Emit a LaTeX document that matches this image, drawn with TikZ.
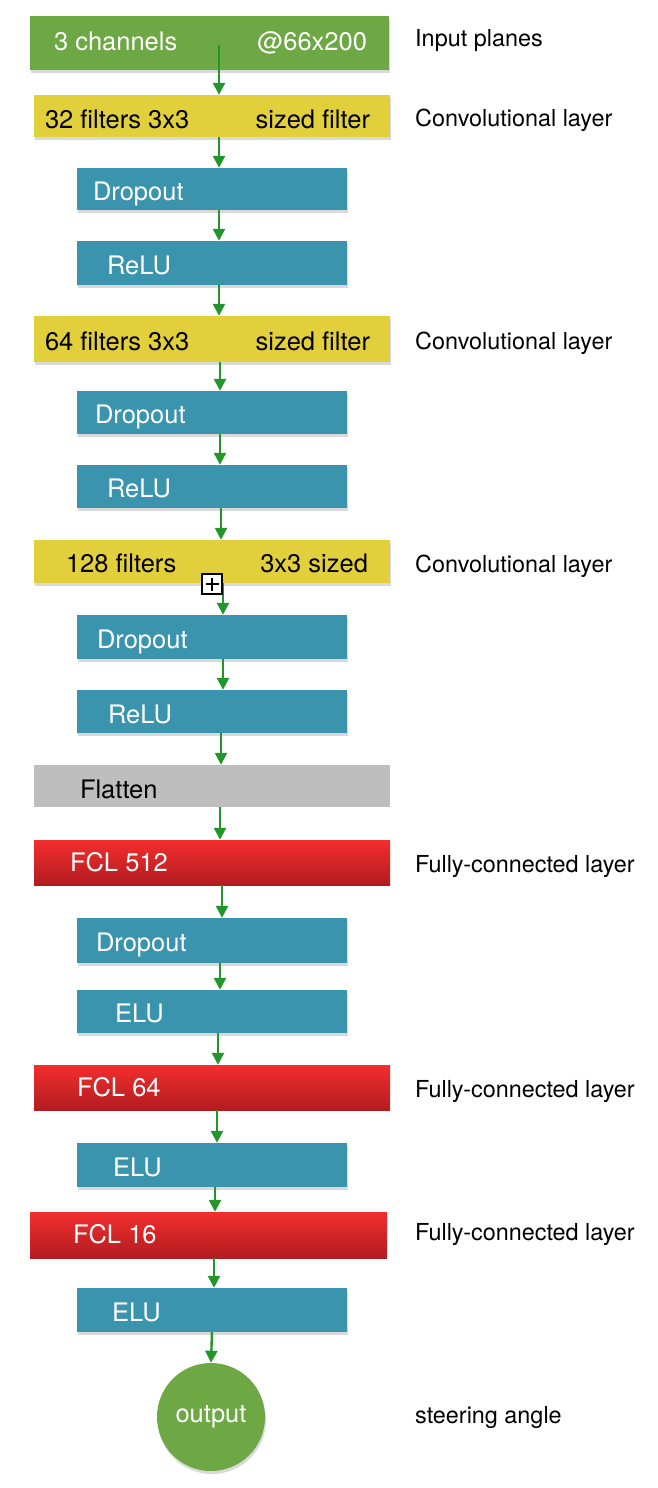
\documentclass[tikz,border=0pt]{standalone}
\usepackage{fontspec}
\setmainfont{TeX Gyre Heros}
\usepackage{tikz}
\usetikzlibrary{positioning,arrows.meta,shadows}

\definecolor{inputgreen}{RGB}{110,168,68}
\definecolor{convyellow}{RGB}{226,207,60}
\definecolor{actblue}{RGB}{58,148,174}
\definecolor{flatgrey}{RGB}{190,190,190}
\definecolor{fcltop}{RGB}{243,46,46}
\definecolor{fclbottom}{RGB}{178,28,32}
\definecolor{arrowgreen}{RGB}{34,150,42}

\begin{document}
\begin{tikzpicture}[x=1pt,y=-1pt,
                every node/.style={font=\fontsize{25.5}{30}\selectfont, inner sep=0pt},
                layer/.style={rectangle, minimum height=44pt,
                    drop shadow={shadow xshift=1pt, shadow yshift=-3pt, opacity=0.3}},
                conv/.style={layer, fill=convyellow, minimum width=356pt},
                act/.style={layer, fill=actblue, minimum width=270pt},
                fcl/.style={rectangle, top color=fcltop, bottom color=fclbottom,
                    minimum width=356pt, minimum height=45pt},
                intext/.style={anchor=base west, text=white},
                rtext/.style={anchor=base east},
                side/.style={anchor=base west, font=\fontsize{23.4}{28}\selectfont}]

            \useasboundingbox (0,0) rectangle (658,1488);

            % layers
            \node[layer, fill=inputgreen, minimum width=359pt, minimum height=54pt] (in) at (209.5,43) {};
            \node[conv, minimum height=42pt] (conv1) at (212,116) {};
            \node[act, minimum height=42pt] (drop1) at (212,189) {};
            \node[act] (relu1) at (212,263) {};
            \node[conv, minimum height=46pt] (conv2) at (212,339) {};
            \node[act, minimum height=43pt] (drop2) at (212,412.5) {};
            \node[act, minimum height=43pt] (relu2) at (212,486.5) {};
            \node[conv, minimum height=43pt] (conv3) at (212,561.5) {};
            \node[act] (drop3) at (212,637) {};
            \node[act, minimum height=43pt] (relu3) at (212,711.5) {};
            \node[rectangle, fill=flatgrey, minimum width=356pt, minimum height=42pt] (flat) at (212,786) {};
            \node[fcl] (fcl1) at (212,862.5) {};
            \node[act, minimum height=45pt] (drop4) at (212,940.5) {};
            \node[act, minimum height=43pt] (elu1) at (212,1011.5) {};
            \node[fcl] (fcl2) at (212,1087.5) {};
            \node[act] (elu2) at (212,1165) {};
            \node[fcl, minimum width=357pt, minimum height=46pt] (fcl3) at (208.5,1235) {};
            \node[act] (elu3) at (212,1310) {};
            \node[circle, fill=inputgreen, minimum size=108pt, text=white,
                  drop shadow={shadow xshift=1pt, shadow yshift=-3pt, opacity=0.3}] (out) at (211,1417) {\raisebox{-3pt}{output}};

            % texts inside the layers
            \node[intext] at ([xshift=24pt,yshift=-8pt]in.west) {3 channels};
            \node[rtext, text=white] at ([xshift=-22pt,yshift=-8pt]in.east) {@66x200};
            \node[intext, text=black] at ([xshift=11pt,yshift=-12pt]conv1.west) {32 filters 3x3};
            \node[rtext] at ([xshift=-20pt,yshift=-12pt]conv1.east) {sized filter};
            \node[intext] at ([xshift=16pt,yshift=-11pt]drop1.west) {Dropout};
            \node[intext] at ([xshift=30pt,yshift=-11pt]relu1.west) {ReLU};
            \node[intext, text=black] at ([xshift=11pt,yshift=-11pt]conv2.west) {64 filters 3x3};
            \node[rtext] at ([xshift=-20pt,yshift=-11pt]conv2.east) {sized filter};
            \node[intext] at ([xshift=18pt,yshift=-11pt]drop2.west) {Dropout};
            \node[intext] at ([xshift=30pt,yshift=-11pt]relu2.west) {ReLU};
            \node[intext, text=black] at ([xshift=32pt,yshift=-11pt]conv3.west) {128 filters};
            \node[rtext] at ([xshift=-22pt,yshift=-11pt]conv3.east) {3x3 sized};
            \node[intext] at ([xshift=20pt,yshift=-11pt]drop3.west) {Dropout};
            \node[intext] at ([xshift=31pt,yshift=-12pt]relu3.west) {ReLU};
            \node[intext, text=black] at ([xshift=46pt,yshift=-12pt]flat.west) {Flatten};
            \node[intext] at ([xshift=36pt,yshift=-9pt]fcl1.west) {FCL 512};
            \node[intext] at ([xshift=19pt,yshift=-11pt]drop4.west) {Dropout};
            \node[intext] at ([xshift=38pt,yshift=-11pt]elu1.west) {ELU};
            \node[intext] at ([xshift=43pt,yshift=-9pt]fcl2.west) {FCL 64};
            \node[intext] at ([xshift=36pt,yshift=-11pt]elu2.west) {ELU};
            \node[intext] at ([xshift=43pt,yshift=-8pt]fcl3.west) {FCL 16};
            \node[intext] at ([xshift=35pt,yshift=-11pt]elu3.west) {ELU};

            % side labels
            \node[side] (inlabel) at (415,47) {Input planes};
            \node[side] (conv1label) at (415,126) {Convolutional layer};
            \node[side] (conv2label) at (415,349) {Convolutional layer};
            \node[side] (conv3label) at (415,572) {Convolutional layer};
            \node[side] (fcl1label) at (415,872) {Fully-connected layer};
            \node[side] (fcl2label) at (415,1097) {Fully-connected layer};
            \node[side] (fcl3label) at (415,1240) {Fully-connected layer};
            \node[side] (outlabel) at (415,1423) {steering angle};

            % connections
            \path[->, color=arrowgreen, line width=2.4pt,
                  >={Triangle[width=12pt,length=12pt]}]
            ([xshift=9.5pt,yshift=-2pt]in.center) edge ([xshift=7pt]conv1.north)
            ([xshift=7pt]conv1.south) edge ([xshift=7pt]drop1.north)
            ([xshift=7pt]drop1.south) edge ([xshift=7pt]relu1.north)
            ([xshift=7pt]relu1.south) edge ([xshift=7pt]conv2.north)
            ([xshift=8pt]conv2.south) edge ([xshift=8pt]drop2.north)
            ([xshift=8pt]drop2.south) edge ([xshift=8pt]relu2.north)
            ([xshift=9pt]relu2.south) edge ([xshift=9pt]conv3.north)
            ([xshift=11pt]conv3.south) edge ([xshift=11pt]drop3.north)
            ([xshift=11pt]drop3.south) edge ([xshift=11pt]relu3.north)
            ([xshift=9pt]relu3.south) edge ([xshift=9pt]flat.north)
            ([xshift=8pt]flat.south) edge ([xshift=8pt]fcl1.north)
            ([xshift=10pt]fcl1.south) edge ([xshift=10pt]drop4.north)
            ([xshift=8pt]drop4.south) edge ([xshift=8pt]elu1.north)
            ([xshift=6pt]elu1.south) edge ([xshift=6pt]fcl2.north)
            ([xshift=5pt]fcl2.south) edge ([xshift=5pt]elu2.north)
            ([xshift=3pt]elu2.south) edge ([xshift=6.5pt]fcl3.north)
            ([xshift=5.5pt]fcl3.south) edge ([xshift=2pt]elu3.north)
            (elu3.south) edge (out.north);

            % small handle on the third convolutional layer
            \node[rectangle, draw=black, fill=white, line width=1.5pt, minimum size=20pt,
                  path picture={\draw[line width=1.8pt]
                      (path picture bounding box.center) ++(-6.5pt,0) -- ++(13pt,0)
                      (path picture bounding box.center) ++(0,-6.5pt) -- ++(0,13pt);}] (handle) at (212,584) {};

        \end{tikzpicture}
\end{document}
